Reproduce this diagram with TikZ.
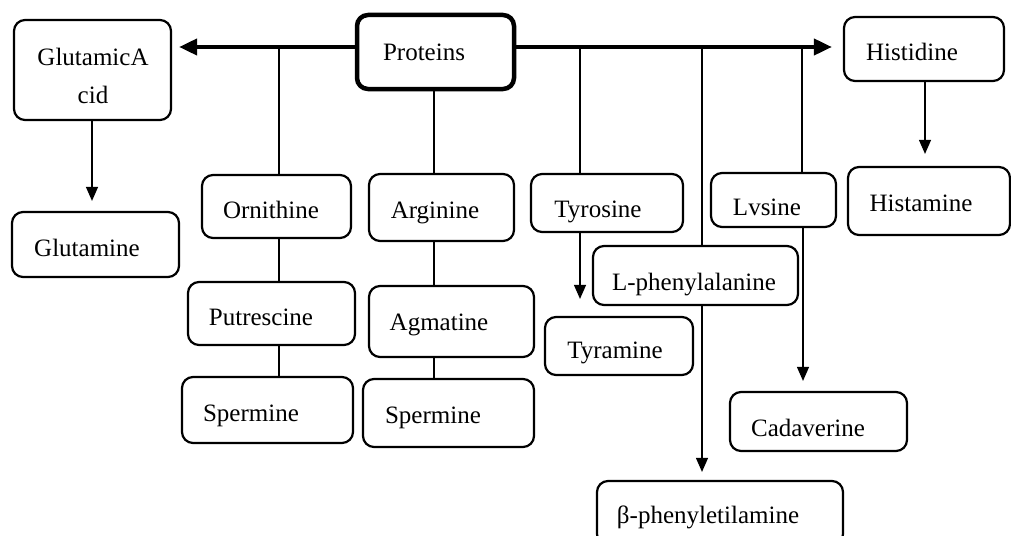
\documentclass[tikz,border=0pt]{standalone}
\usepackage{fontspec}
\setmainfont{Liberation Serif}
\usetikzlibrary{arrows.meta}
\tikzset{
  box/.style={draw, line width=2.2pt, rounded corners=11pt, inner sep=0pt, fill=white},
  bigbox/.style={box, line width=4.5pt},
  lbl/.style={anchor=base, inner sep=0pt, font=\fontsize{25}{29}\selectfont},
  link/.style={line width=1.2pt},
  arr/.style={line width=1.2pt, -{Triangle[width=12pt,length=14pt]}},
  mainarr/.style={line width=4pt, -{Triangle[width=16pt,length=18pt]}},
}
\begin{document}
\begin{tikzpicture}[x=1pt,y=-1pt]
\clip (0,0) rectangle (1011,535);
\fill[white] (0,0) rectangle (1011,535);
% boxes
\node[box, minimum width=157pt, minimum height=100pt] (GA)  at (92.5,70) {};
\node[bigbox, minimum width=157pt, minimum height=74pt] (Pro) at (435.5,52) {};
\node[box, minimum width=160pt, minimum height=64pt]  (His) at (924,49) {};
\node[box, minimum width=162pt, minimum height=68pt]  (Hsm) at (929,201) {};
\node[box, minimum width=167pt, minimum height=65pt]  (Gln) at (95.5,244.5) {};
\node[box, minimum width=149pt, minimum height=63pt]  (Orn) at (276.5,206.5) {};
\node[box, minimum width=145pt, minimum height=67pt]  (Arg) at (441.5,207.5) {};
\node[box, minimum width=167pt, minimum height=63pt]  (Put) at (271.5,313.5) {};
\node[box, minimum width=171pt, minimum height=66pt]  (Sp1) at (267.5,410) {};
\node[box, minimum width=165pt, minimum height=71pt]  (Agm) at (451.5,321.5) {};
\node[box, minimum width=171pt, minimum height=68pt]  (Sp2) at (448.5,413) {};
\node[box, minimum width=152pt, minimum height=58pt]  (Tyr) at (607,203) {};
\node[box, minimum width=125pt, minimum height=54pt]  (Lvs) at (773.5,200) {};
\node[box, minimum width=205pt, minimum height=59pt]  (Lph) at (695.5,275.5) {};
\node[box, minimum width=148pt, minimum height=58pt]  (Tym) at (619,346) {};
\node[box, minimum width=177pt, minimum height=59pt]  (Cad) at (818.5,421.5) {};
\node[box, minimum width=246pt, minimum height=64pt]  (Bpe) at (720,513) {};
% labels
\node[lbl] (tGA1) at (93,65)  {GlutamicA};
\node[lbl] (tGA2) at (93,103) {cid};
\node[lbl] (tPro) at (424,60) {Proteins};
\node[lbl] (tHis) at (912,60) {Histidine};
\node[lbl] (tHsm) at (921,211) {Histamine};
\node[lbl] (tGln) at (87,256) {Glutamine};
\node[lbl] (tOrn) at (271,218) {Ornithine};
\node[lbl] (tArg) at (435,218) {Arginine};
\node[lbl] (tPut) at (261,325) {Putrescine};
\node[lbl] (tSp1) at (251,421) {Spermine};
\node[lbl] (tAgm) at (439,330) {Agmatine};
\node[lbl] (tSp2) at (433,423) {Spermine};
\node[lbl] (tTyr) at (598,217) {Tyrosine};
\node[lbl] (tLvs) at (767,215) {Lvsine};
\node[lbl] (tLph) at (694,290) {L-phenylalanine};
\node[lbl] (tTym) at (615,358) {Tyramine};
\node[lbl] (tCad) at (808,436) {Cadaverine};
\node[lbl] (tBpe) at (708,523) {β-phenyletilamine};
% main line coordinates
\coordinate (main) at (0,47);
\coordinate (xOrn) at (279,0);
\coordinate (xArg) at (434,0);
\coordinate (xTyr) at (580,0);
\coordinate (xLph) at (702,0);
\coordinate (xLvs) at (802,0);
\coordinate (xHis) at (925,0);
\coordinate (xGA)  at (92,0);
% branches from main line
\draw[link] (xOrn |- main) -- (xOrn |- Orn.north);
\draw[link] (xArg |- Pro.south) -- (xArg |- Arg.north);
\draw[link] (xTyr |- main) -- (xTyr |- Tyr.north);
\draw[link] (xLph |- main) -- (xLph |- Lph.north);
\draw[link] (xLvs |- main) -- (xLvs |- Lvs.north);
% main arrows
\draw[mainarr, shorten >=7pt] (Pro.west |- main) -- (GA.east |- main);
\draw[mainarr, shorten >=11pt] (Pro.east |- main) -- (His.west |- main);
% chains
\draw[link] (xOrn |- Orn.south) -- (xOrn |- Put.north);
\draw[link] (xOrn |- Put.south) -- (xOrn |- Sp1.north);
\draw[link] (xArg |- Arg.south) -- (xArg |- Agm.north);
\draw[link] (xArg |- Agm.south) -- (xArg |- Sp2.north);
% arrows
\draw[arr, shorten >=10pt] (xGA |- GA.south) -- (xGA |- Gln.north);
\draw[arr, shorten >=12pt] (xHis |- His.south) -- (xHis |- Hsm.north);
\draw[arr, shorten >=17pt] (xTyr |- Tyr.south) -- (xTyr |- Tym.north);
\draw[arr, shorten >=8pt] (xLph |- Lph.south) -- (xLph |- Bpe.north);
\draw[arr, shorten >=10pt] ([xshift=1pt]xLvs |- Lvs.south) -- ([xshift=1pt]xLvs |- Cad.north);
\end{tikzpicture}
\end{document}
